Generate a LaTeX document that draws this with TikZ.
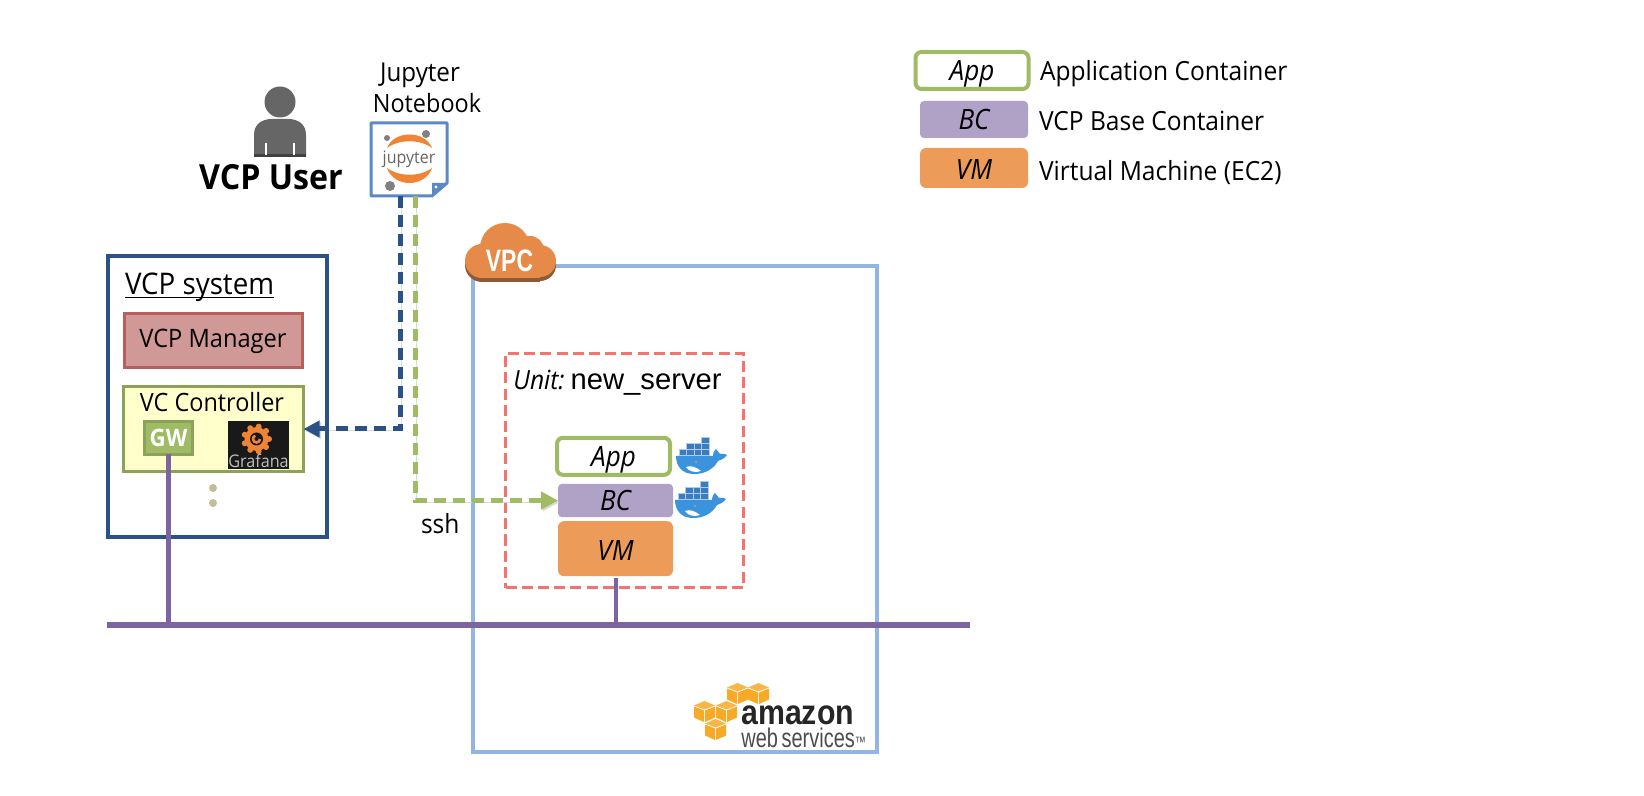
\documentclass[tikz,border=0pt]{standalone}
\usepackage{fontspec}
\setmainfont[FakeStretch=0.93]{Open Sans}
\newfontfamily\awsfont[FakeStretch=0.87]{Liberation Sans}
\newfontfamily\narrowfont[FakeStretch=0.74]{Liberation Sans}
\newfontfamily\unitfont{Liberation Sans}
\usetikzlibrary{positioning}
\usetikzlibrary{arrows.meta}
\definecolor{navyline}{HTML}{2B5286}
\definecolor{greenline}{HTML}{9FBC64}
\definecolor{purpleline}{HTML}{7B64A0}
\definecolor{vpcblue}{HTML}{92B6E4}
\definecolor{unitred}{HTML}{F4736E}
\definecolor{bcfill}{HTML}{B0A2C6}
\definecolor{vmfill}{HTML}{EC9B58}
\definecolor{cloudfill}{HTML}{E68A4A}
\definecolor{clouddark}{HTML}{8E5A36}
\definecolor{awsorange}{HTML}{F8A925}
\definecolor{dockerdark}{HTML}{3A7CC2}
\definecolor{dockerblue}{HTML}{3B92DD}
\definecolor{jupyterblue}{HTML}{5C88C6}
\definecolor{jupyterorange}{HTML}{EE8434}
\definecolor{sysred}{HTML}{B85F5C}
\definecolor{mgrfill}{HTML}{D09997}
\definecolor{ctrlgreen}{HTML}{8CA25A}
\definecolor{ctrlfill}{HTML}{FFFFCC}
\definecolor{dotcolor}{HTML}{C4BD97}
\tikzset{
	textlabel/.style={font=\fontsize{13.2}{16}\selectfont, inner sep=0pt, outer sep=0pt},
	italiclabel/.style={font=\fontsize{14}{16}\selectfont\itshape, text depth=0pt},
	appbox/.style={draw=greenline, line width=2pt, rounded corners=3pt, fill=white, minimum width=56.5pt, minimum height=18.5pt, outer sep=0pt, italiclabel, text height=10.5pt},
	bcbox/.style={fill=bcfill, rounded corners=2pt, minimum width=57.5pt, minimum height=16.5pt, outer sep=0pt, italiclabel, text height=10pt},
	vmbox/.style={fill=vmfill, rounded corners=3pt, minimum width=57.5pt, minimum height=27.5pt, outer sep=0pt, italiclabel, text height=12pt},
	sysbox/.style={line width=1.5pt, outer sep=0pt, inner sep=0pt},
	dashline/.style={line width=2.5pt, dash pattern=on 6pt off 3.5pt, preaction={draw=black!15, transform canvas={xshift=.8pt, yshift=-.8pt}}},
	netline/.style={draw=purpleline, line width=2.8pt},
	docker/.pic={
		\fill[dockerblue] (0,19) -- (37,19) .. controls (37,15) and (39,13) .. (40,12) .. controls (42,14) and (43,16) .. (44,17) .. controls (47,16) and (49,17) .. (51,18) .. controls (48,22) and (45,23) .. (42,24) .. controls (37,33) and (28,37) .. (18,37) .. controls (6,37) and (0,29) .. (0,19) -- cycle;
		\fill[white] (10,30) .. controls (15,28) and (20,30) .. (25,34) .. controls (20,36) and (13,35) .. (10,30) -- cycle;
		\fill[black!40] (20,25) circle (1.5);
		\foreach \col in {0,...,3}
			\filldraw[fill=dockerdark, draw=white!60!dockerdark, line width=.2pt] (3+7.5*\col,12.5) rectangle +(7.5,6);
		\foreach \col in {1,2,3}
			\filldraw[fill=dockerdark, draw=white!60!dockerdark, line width=.2pt] (3+7.5*\col,6.5) rectangle +(7.5,6);
		\filldraw[fill=dockerdark, draw=white!60!dockerdark, line width=.2pt] (25.5,.5) rectangle +(7.5,6);
	},
	awscube/.pic={
		\fill[awsorange!85!white] (10.5,0) -- (21,4.5) -- (10.5,8.5) -- (0,4.5) -- cycle;
		\fill[awsorange] (0,5.5) -- (10,9.5) -- (10,21) -- (0,16.5) -- cycle;
		\fill[awsorange] (21,5.5) -- (11,9.5) -- (11,21) -- (21,16.5) -- cycle;
	}
}
\begin{document}
\begin{tikzpicture}[x=.5pt, y=-.5pt]
	\useasboundingbox (0,0) rectangle (1644,796);

	\node[appbox] (legendapp) at (972,70.5) {App};
	\node[bcbox, minimum width=54pt, minimum height=18.5pt] (legendbc) at (974,119.5) {BC};
	\node[vmbox, minimum width=54pt, minimum height=20pt, below=5pt of legendbc] (legendvm) {VM};
	\node[textlabel, anchor=base west] (labelapp) at (1040,81) {Application Container};
	\node[textlabel, anchor=base west] (labelbc) at (1039,131) {VCP Base Container};
	\node[textlabel, anchor=base west] (labelvm) at (1039,181) {Virtual Machine (EC2)};

	\fill[black!60] (280,102) circle (15.5);
	\fill[black!60] (254,157) -- (254,135) .. controls (254,124) and (262,119) .. (272,119) -- (288,119) .. controls (298,119) and (306,124) .. (306,135) -- (306,157) -- cycle;
	\fill[black!75] (254,154) rectangle (306,157);
	\draw[white, line width=.6pt] (266,143) -- (266,155) (294,143) -- (294,155);
	\node[anchor=base, font=\fontsize{17.3}{20}\selectfont\bfseries, inner sep=0pt] (user) at (271,190) {VCP User};

	\node[textlabel, font=\fontsize{13}{16}\selectfont, anchor=base] (jupytertext) at (420,82) {Jupyter};
	\node[textlabel, font=\fontsize{12.6}{16}\selectfont, anchor=base] (notebooktext) at (427,113) {Notebook};
	\node[minimum width=38pt, minimum height=36.5pt, inner sep=0pt, outer sep=0pt] (jupyter) at (409,159.5) {};
	\draw[draw=jupyterblue, line width=1.5pt, line join=round, fill=white] (jupyter.north west) -- (jupyter.north east) -- ([yshift=6.5pt]jupyter.south east) -- ([xshift=-7.5pt]jupyter.south east) -- (jupyter.south west) -- cycle;
	\fill[jupyterblue] ([yshift=6.5pt]jupyter.south east) -- ([xshift=-7.5pt, yshift=6.5pt]jupyter.south east) -- ([xshift=-7.5pt]jupyter.south east) -- cycle;
	\fill[white] (436,187) circle (1.6);
	\fill[jupyterorange] (387,148) .. controls (394,130) and (425,130) .. (432,148) .. controls (420,139) and (399,139) .. (387,148) -- cycle;
	\fill[jupyterorange] (387,168) .. controls (394,188) and (425,188) .. (432,168) .. controls (420,177) and (399,177) .. (387,168) -- cycle;
	\fill[black!50] (387,138) circle (3) (426,134) circle (4) (390,186) circle (5);
	\node[font=\fontsize{8.6}{12}\selectfont, text=black!60, inner sep=0pt] (jupyterlogo) at (409,159) {jupyter};

	\node[draw=navyline, sysbox, line width=1.8pt, minimum width=109.5pt, minimum height=140.5pt] (vcpsystem) at (217.5,396.5) {};
	\node[textlabel, font=\fontsize{14.9}{18}\selectfont, anchor=base west] (vcpsystemtext) at (125,295) {\underline{\smash{VCP system}}};
	\node[draw=sysred, sysbox, fill=mgrfill, minimum width=89pt, minimum height=27pt, font=\fontsize{12.7}{16}\selectfont] (manager) at (213,341) {VCP Manager};
	\node[draw=ctrlgreen, sysbox, fill=ctrlfill, minimum width=90pt, minimum height=42.5pt] (controller) at (213.5,429) {};
	\node[textlabel, font=\fontsize{12.6}{16}\selectfont, anchor=base] (controllertext) at (212,412) {VC Controller};
	\node[draw=ctrlgreen, sysbox, fill=greenline, minimum width=24pt, minimum height=16.5pt, text=white, font=\fontsize{12}{14}\selectfont\bfseries] (gw) at (168.5,438) {GW};
	\node[fill=black!90, minimum width=30.5pt, minimum height=24pt, inner sep=0pt, outer sep=0pt] (grafana) at (258.5,445) {};
	\foreach \ang in {0,40,...,320}
		\fill[jupyterorange] (256.5,439) ++(\ang:12.5) circle (3);
	\fill[jupyterorange] (256.5,439) circle (12);
	\fill[black!90] (256.5,439) circle (6.5);
	\draw[jupyterorange, line width=1.3pt] (260,439) arc (0:250:3.5);
	\node[anchor=base, font=\fontsize{8.7}{10}\selectfont, text=black!25, inner sep=0pt] (grafanatext) at (258.5,467) {Grafana};
	\node[circle, fill=dotcolor, minimum size=4pt, inner sep=0pt] (dotone) at (213,488) {};
	\node[circle, fill=dotcolor, minimum size=4pt, inner sep=0pt] (dottwo) at (213,503) {};

	\node[draw=vpcblue, line width=1.7pt, minimum width=202pt, minimum height=243pt, outer sep=0pt] (vpc) at (675,509) {};
	\fill[clouddark] (482,265) circle (17);
	\fill[clouddark] (540,265) circle (16);
	\fill[clouddark] (482,255) rectangle (540,282);
	\fill[cloudfill] (482,261) circle (17);
	\fill[cloudfill] (505,248) circle (25);
	\fill[cloudfill] (530,250) circle (14);
	\fill[cloudfill] (540,261) circle (16);
	\fill[cloudfill] (482,250) rectangle (540,278);
	\node[font=\fontsize{15.5}{18}\selectfont\narrowfont\bfseries, text=white, inner sep=0pt] (vpctext) at (509.5,261) {VPC};

	\node[draw=unitred, line width=1.7pt, dash pattern=on 5.5pt off 2.6pt, minimum width=119pt, minimum height=117pt, outer sep=0pt] (unit) at (624.5,470.5) {};
	\node[anchor=base west, inner sep=0pt] (unittext) at (513,390) {\fontsize{13.2}{16}\selectfont\itshape Unit:\kern3pt\fontsize{14.6}{16}\selectfont\upshape\unitfont new\_server};

	\node[bcbox] (bc) at (615.5,500.5) {BC};
	\node[vmbox, below=2pt of bc] (vm) {VM};
	\node[appbox, above=4.5pt of bc, xshift=-1pt] (app) {App};
	\pic at (676,437) {docker};
	\pic at (675,481) {docker};

	\coordinate (busleft) at (107,625);
	\coordinate (busright) at (970,625);
	\draw[netline] (gw.south) -- (gw.south |- busleft);
	\draw[netline, line width=2pt] ([yshift=-1pt]vm.south) -- ([yshift=-1pt]vm.south |- busleft);
	\draw[netline, line width=3.3pt] (busleft) -- (busright);

	\draw[navyline, dashline, -{Triangle[length=8pt, width=8pt]}] ([xshift=-4.5pt]jupyter.south) |- (controller.east);
	\draw[greenline, dashline, -{Triangle[length=8.5pt, width=8.5pt]}] ([xshift=3pt]jupyter.south) |- (bc.west);
	\node[textlabel, anchor=base west] (sshtext) at (421,533) {ssh};

	\pic at (694,701) {awscube};
	\pic at (716,701) {awscube};
	\pic at (727,683) {awscube};
	\pic at (748,683) {awscube};
	\pic at (705,719) {awscube};
	\node[anchor=south west, inner sep=0pt, align=left, text=black!85, font=\fontsize{17.4}{11.5}\selectfont\awsfont\bfseries] (amazon) at (741,748) {amazon\\{\fontsize{13.5}{11.5}\selectfont\narrowfont\mdseries\color{black!70}web\kern-1pt\ services{\fontsize{7.5}{8}\selectfont ™}}};
\end{tikzpicture}
\end{document}
